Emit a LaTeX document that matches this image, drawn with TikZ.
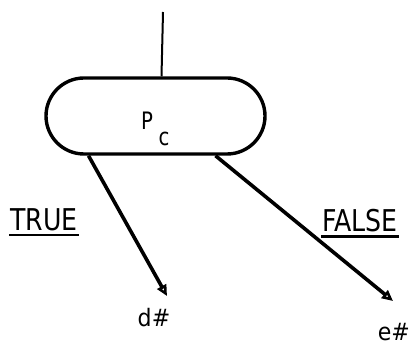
\documentclass[tikz,border=0pt]{standalone}
\usepackage{fontspec}
\setmainfont{DejaVu Sans}
\usetikzlibrary{arrows.meta}

\begin{document}
\begin{tikzpicture}[x=1pt,y=-1pt]
	\tikzset{decision/.style={draw,line width=3.4pt,rectangle,rounded corners=38pt,
		minimum width=219pt,minimum height=76pt}}
	\tikzset{branch/.style={line width=3.6pt,-{Triangle[open,length=11pt,width=10pt,line width=2.6pt]}}}
	\tikzset{lbl/.style={font=\fontsize{30}{33}\selectfont,xscale=0.84,inner sep=1pt}}
	\tikzset{outcome/.style={font=\fontsize{24}{27}\selectfont,xscale=0.92,inner sep=1pt}}
	\tikzset{pred/.style={font=\fontsize{24}{27}\selectfont,xscale=0.82}}
	\useasboundingbox (0,0) rectangle (412,347);
	% predicate box with its entry line
	\node[decision] (pc) at (155.5,116) {};
	\node[pred] (p) at (147,121) {P};
	\node[pred] (c) at (164,139) {c};
	\coordinate (in) at (163,12);
	\draw[line width=2pt] (in) -- ([xshift=6pt]pc.north);
	% the two exits
	\coordinate (dtip) at (167,296);
	\coordinate (etip) at (393,301);
	\draw[branch] ([xshift=-67pt]pc.south) -- (dtip);
	\draw[branch] ([xshift=60pt]pc.south) -- (etip);
	\node[outcome] (d) at (154,318) {d\#};
	\node[outcome,anchor=east] (e) at (411,332) {e\#};
	% branch labels
	\node[lbl] (t) at (44,220) {TRUE};
	\node[lbl] (f) at (360,221) {FALSE};
	\draw[line width=2.2pt] ([yshift=-3pt]t.south west) -- ([yshift=-3pt]t.south east);
	\draw[line width=2.2pt] ([yshift=-3pt]f.south west) -- ([yshift=-3pt]f.south east);
\end{tikzpicture}
\end{document}
